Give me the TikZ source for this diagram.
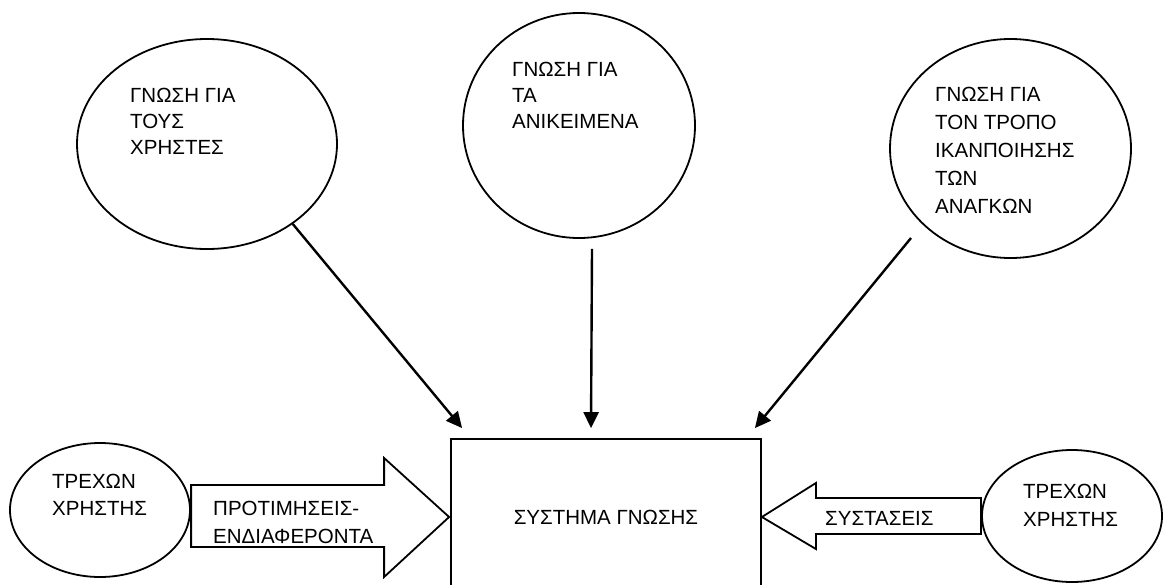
\documentclass[tikz,border=0pt]{standalone}
\usepackage{fontspec}
\setmainfont{Liberation Sans}
\usetikzlibrary{shapes.geometric,arrows.meta,calc}
\tikzset{
  oval/.style={draw, ellipse, line width=1.8pt, inner sep=0pt},
  lbl/.style={anchor=base west, inner sep=0pt, align=left, font=\fontsize{20.5}{26}\selectfont},
  lbl27/.style={lbl, font=\fontsize{20.5}{27}\selectfont},
  lbl28/.style={lbl, font=\fontsize{20.5}{28}\selectfont},
  sysbox/.style={draw, rectangle, line width=1.8pt, minimum width=310pt, minimum height=156pt, inner sep=0pt, font=\fontsize{20.5}{26}\selectfont},
  arr/.style={line width=2.4pt, -{Triangle[length=16pt,width=15pt]}},
  blockarrow/.style={draw, line width=1.8pt, line join=miter}
}
\begin{document}
\begin{tikzpicture}[x=1pt,y=-1pt]
\useasboundingbox (0,0) rectangle (1164,584);
\clip (0,0) rectangle (1164,584);
% ellipses
\node[oval, minimum width=260pt, minimum height=210pt] (kU) at (207,144) {};
\node[oval, minimum width=232pt, minimum height=225pt] (kO) at (579,125.5) {};
\node[oval, minimum width=241pt, minimum height=219pt] (kT) at (1010.5,148.5) {};
\node[oval, minimum width=180pt, minimum height=134pt] (uL) at (100,510) {};
\node[oval, minimum width=180pt, minimum height=132pt] (uR) at (1072,516) {};
% system box
\node[sysbox] (sys) at (606,517) {ΣΥΣΤΗΜΑ ΓΝΩΣΗΣ};
% texts (anchored at the baseline of the last line)
\node[lbl] (tU) at (130,154) {ΓΝΩΣΗ ΓΙΑ\\ΤΟΥΣ\\ΧΡΗΣΤΕΣ};
\node[lbl] (tO) at (512,128) {ΓΝΩΣΗ ΓΙΑ\\ΤΑ\\ΑΝΙΚΕΙΜΕΝΑ};
\node[lbl28] (tT) at (935,213) {ΓΝΩΣΗ ΓΙΑ\\ΤΟΝ ΤΡΟΠΟ\\ΙΚΑΝΠΟΙΗΣΗΣ\\ΤΩΝ\\ΑΝΑΓΚΩΝ};
\node[lbl27] (tL) at (52,515) {ΤΡΕΧΩΝ\\ΧΡΗΣΤΗΣ};
\node[lbl28] (tR) at (1023,526) {ΤΡΕΧΩΝ\\ΧΡΗΣΤΗΣ};
% arrows
\draw[arr] (kU.-43) -- ($(sys.north west)+(12,-10)$);
\draw[arr] ($(kO.south)+(13,10)$) -- ($(sys.north)+(-15,-10)$);
\draw[arr] ($(kT.center)+(-99.5,89.5)$) -- ($(sys.north east)+(-7,-10)$);
% block arrows
\draw[blockarrow] ($(sys.west)+(-1,0)$) -- ++(-65,-59) -- ++(0,27) -- ++(-193,0) -- ++(0,62) -- ++(193,0) -- ++(0,30) -- cycle;
\draw[blockarrow] (sys.east) -- ++(54,-34) -- ++(0,15) -- ++(165,0) -- ++(0,36) -- ++(-165,0) -- ++(0,15) -- cycle;
\node[lbl28] (tP) at (213,543) {ΠΡΟΤΙΜΗΣΕΙΣ-\\ΕΝΔΙΑΦΕΡΟΝΤΑ};
\node[lbl] (tS) at (825,525) {ΣΥΣΤΑΣΕΙΣ};
\end{tikzpicture}
\end{document}
